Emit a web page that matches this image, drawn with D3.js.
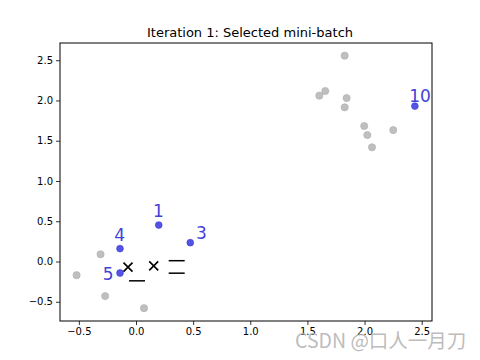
<!DOCTYPE html>
<html><head><meta charset="utf-8">
<script src="https://cdn.jsdelivr.net/npm/d3@7"></script>
<style>body{margin:0;background:#fff}svg{display:block}</style>
</head><body>
<svg id="c" width="480" height="360"></svg>
<script>
// data
const grayX = [-0.52, -0.31, -0.27, 0.07, 1.826, 1.656, 1.604, 1.843, 1.826, 1.997, 2.024, 2.251, 2.065];
const grayY = [-0.17, 0.09, -0.43, -0.58, 2.557, 2.118, 2.06, 2.03, 1.915, 1.683, 1.571, 1.633, 1.419];
const batchIds = ["1", "3", "4", "5", "10"];
const batchX = [0.199, 0.475, -0.14, -0.14, 2.44];
const batchY = [0.453, 0.234, 0.16, -0.143, 1.93];
const labelDx = [-0.05, 0.05, -0.05, -0.15, -0.05];
const labelDy = [0.1, 0.05, 0.1, -0.09, 0.05];
const crossX = [-0.07, 0.155];
const crossY = [-0.07, -0.055];
const dashX = [0.009, 0.356, 0.356];
const dashY = [-0.24, 0.01, -0.145];
const xTicks = [-0.5, 0.0, 0.5, 1.0, 1.5, 2.0, 2.5];
const yTicks = [-0.5, 0.0, 0.5, 1.0, 1.5, 2.0, 2.5];
const title = "Iteration 1: Selected mini-batch";

const svg = d3.select("#c");
const L = 60, R = 432, T = 43, B = 321;
const x = d3.scaleLinear().domain([-0.665, 2.59]).range([L, R]);
const y = d3.scaleLinear().domain([-0.739, 2.714]).range([B, T]);
const font = "DejaVu Sans, sans-serif";

const fmt = d => d3.format(".1f")(d).replace("-", "\u2212");
const xa = svg.append("g").attr("transform", `translate(0,${B})`)
  .call(d3.axisBottom(x).tickValues(xTicks).tickFormat(fmt).tickSize(4).tickPadding(3));
const ya = svg.append("g").attr("transform", `translate(${L},0)`)
  .call(d3.axisLeft(y).tickValues(yTicks).tickFormat(fmt).tickSize(4).tickPadding(3));
[xa, ya].forEach(a => {
  a.select(".domain").remove();
  a.selectAll("text").attr("font-family", font).attr("font-size", 10).attr("fill", "#000");
  a.selectAll("line").attr("stroke", "#000").attr("stroke-width", 0.8);
});

svg.append("rect").attr("x", L).attr("y", T).attr("width", R - L).attr("height", B - T)
  .attr("fill", "none").attr("stroke", "#000").attr("stroke-width", 1);

svg.append("text").attr("x", 250).attr("y", 37).attr("text-anchor", "middle")
  .attr("font-family", font).attr("font-size", 13).text(title);

const plot = svg.append("g");
plot.selectAll("circle.g").data(grayX).join("circle").attr("class", "g")
  .attr("cx", (d, i) => x(d)).attr("cy", (d, i) => y(grayY[i])).attr("r", 3.6)
  .attr("fill", "#bfbfbf").attr("stroke", "#adadad").attr("stroke-width", 0.6);

plot.selectAll("circle.b").data(batchX).join("circle").attr("class", "b")
  .attr("cx", d => x(d)).attr("cy", (d, i) => y(batchY[i])).attr("r", 3.4)
  .attr("fill", "#5353e6").attr("stroke", "#3a3ad0").attr("stroke-width", 0.6);

plot.selectAll("text.lb").data(batchIds).join("text").attr("class", "lb")
  .attr("x", (d, i) => x(batchX[i] + labelDx[i])).attr("y", (d, i) => y(batchY[i] + labelDy[i]))
  .attr("font-family", font).attr("font-size", 17).attr("fill", "#4242d6").text(d => d);

const cs = 4.5;
crossX.forEach((cx, i) => {
  const px = x(cx), py = y(crossY[i]);
  plot.append("path").attr("d", `M${px - cs},${py - cs}L${px + cs},${py + cs}M${px - cs},${py + cs}L${px + cs},${py - cs}`)
    .attr("stroke", "#000").attr("stroke-width", 1.6);
});
const dw = 8;
dashX.forEach((dx, i) => {
  const px = x(dx), py = y(dashY[i]);
  plot.append("line").attr("x1", px - dw).attr("x2", px + dw).attr("y1", py).attr("y2", py)
    .attr("stroke", "#000").attr("stroke-width", 1.5);
});

svg.append("text").attr("x", 295).attr("y", 348)
  .attr("font-family", "'Noto Sans CJK SC', 'Noto Sans', sans-serif").attr("font-size", 19.5)
  .attr("fill", "#b4b4b4").attr("fill-opacity", 0.9).text("CSDN @口人一月刀");
</script>
</body></html>
